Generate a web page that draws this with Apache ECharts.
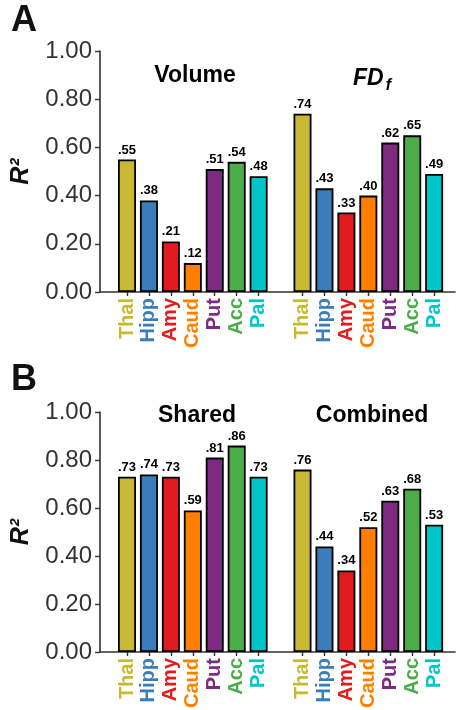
<!DOCTYPE html>
<html>
<head>
<meta charset="utf-8">
<script src="https://cdn.jsdelivr.net/npm/echarts@6/dist/echarts.min.js"></script>
<style>
  html, body { margin: 0; padding: 0; background: #fff; }
  #chart { width: 462px; height: 710px; }
</style>
</head>
<body>
<div id="chart"></div>
<script>
// regions and their colours
const regions = ['Thal', 'Hipp', 'Amy', 'Caud', 'Put', 'Acc', 'Pal'];
const regionColors = ['#c9b832', '#3a7dbb', '#e31b1e', '#ff8000', '#7d2b80', '#4bad48', '#00c6c8'];

// R^2 values
const volume   = [0.55, 0.38, 0.21, 0.12, 0.51, 0.54, 0.48];
const fdf      = [0.74, 0.43, 0.33, 0.40, 0.62, 0.65, 0.49];
const shared   = [0.73, 0.74, 0.73, 0.59, 0.81, 0.86, 0.73];
const combined = [0.76, 0.44, 0.34, 0.52, 0.63, 0.68, 0.53];

const yTicks = [0, 0.2, 0.4, 0.6, 0.8, 1.0];

// two groups per panel, one empty slot between them
const LEAD = 1.23;        // room left of the first bar, in slots
const GROUP_STEP = 8;
const X_MAX = 16.18;
function slot(g, i) { return LEAD + g * GROUP_STEP + i; }
const slots = [];
[0, 1].forEach(g => regions.forEach((r, i) => slots.push(slot(g, i))));

const FONT = 'Liberation Sans';

const rich = {};
regions.forEach((r, i) => {
  rich['r' + i] = { color: regionColors[i], fontWeight: 'bold', fontSize: 20, fontFamily: FONT };
});

function panelData(a, b) {
  const out = [];
  [a, b].forEach((arr, g) => {
    arr.forEach((v, i) => {
      out.push({ value: [slot(g, i), v], itemStyle: { color: regionColors[i] } });
    });
  });
  return out;
}

function xAxisFor(idx) {
  return {
    type: 'value',
    gridIndex: idx,
    min: 0,
    max: X_MAX,
    axisLine: { show: true, lineStyle: { color: '#333', width: 1.6 } },
    axisTick: { show: true, customValues: slots, length: 4, lineStyle: { color: '#333', width: 1.4 } },
    splitLine: { show: false },
    axisLabel: {
      customValues: slots,
      rotate: 90,
      margin: 6,
      formatter: function (v) {
        const i = Math.round(v - LEAD) % GROUP_STEP;
        return '{r' + i + '|' + regions[i] + '}';
      },
      rich: rich
    }
  };
}

function yAxisFor(idx) {
  return {
    type: 'value',
    gridIndex: idx,
    position: 'left',
    min: yTicks[0],
    max: yTicks[yTicks.length - 1],
    interval: 0.2,
    name: 'R²',
    nameLocation: 'middle',
    nameRotate: 90,
    nameGap: 66,
    nameTextStyle: {
      fontSize: 25, fontWeight: 'bold', fontStyle: 'italic', fontFamily: FONT, color: '#111'
    },
    axisLine: { show: true, lineStyle: { color: '#333', width: 1.6 } },
    axisTick: { show: true, length: 5, lineStyle: { color: '#333', width: 1.4 } },
    splitLine: { show: false },
    axisLabel: {
      margin: 8,
      fontSize: 24,
      fontFamily: FONT,
      color: '#333',
      formatter: v => v.toFixed(2)
    }
  };
}

function barSeries(idx, a, b) {
  return {
    type: 'bar',
    xAxisIndex: idx,
    yAxisIndex: idx,
    barWidth: 18,
    data: panelData(a, b),
    itemStyle: { borderColor: '#000', borderWidth: 1.8 },
    label: {
      show: true,
      position: 'top',
      distance: 3,
      fontSize: 13,
      fontWeight: 'bold',
      fontFamily: FONT,
      color: '#000',
      formatter: p => p.value[1].toFixed(2).slice(1)
    },
    silent: true
  };
}

function heading(text, left, top, extra) {
  return Object.assign({
    text: text,
    left: left,
    top: top,
    textAlign: 'center',
    textStyle: { fontSize: 23, fontWeight: 'bold', fontFamily: FONT, color: '#000' }
  }, extra || {});
}

const chart = echarts.init(document.getElementById('chart'), null, { renderer: 'canvas' });

chart.setOption({
  backgroundColor: '#fff',
  animation: false,
  title: [
    { text: 'A', left: 6, top: -2, textStyle: { fontSize: 36, fontWeight: 'bold', fontFamily: FONT, color: '#111' } },
    { text: 'B', left: 6, top: 357, textStyle: { fontSize: 36, fontWeight: 'bold', fontFamily: FONT, color: '#111' } },
    heading('Volume', 190, 59),
    heading('{a|FD}{b|f}', 367, 59, {
      textStyle: {
        rich: {
          a: { fontSize: 23, fontWeight: 'bold', fontStyle: 'italic', fontFamily: FONT, color: '#000' },
          b: { fontSize: 16, fontWeight: 'bold', fontStyle: 'italic', fontFamily: FONT, color: '#000', padding: [14, 0, 0, 2] }
        }
      }
    }),
    heading('Shared', 192, 399),
    heading('Combined', 367, 399)
  ],
  grid: [
    { left: 100, right: 7, top: 51, height: 241, outerBoundsMode: 'none' },
    { left: 100, right: 7, top: 412, height: 240, outerBoundsMode: 'none' }
  ],
  xAxis: [xAxisFor(0), xAxisFor(1)],
  yAxis: [yAxisFor(0), yAxisFor(1)],
  series: [
    barSeries(0, volume, fdf),
    barSeries(1, shared, combined)
  ]
});
</script>
</body>
</html>
